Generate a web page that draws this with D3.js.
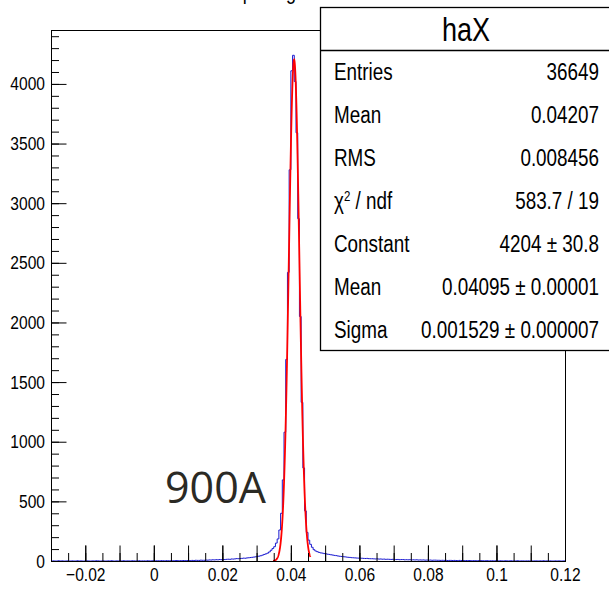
<!DOCTYPE html>
<html lang="en">
<head>
<meta charset="UTF-8">
<title>haX</title>
<script src="https://cdn.jsdelivr.net/npm/d3@7"></script>
<style>
    body { margin: 0; background: #fff; }
    svg { display: block; }
</style>
</head>
<body>
<script>
    // histogram haX : 300 bins, -0.03 .. 0.12
    var xMin = -0.03, xMax = 0.12, binWidth = 0.0005;
    var counts = [
        0,1,0,0,2,0,1,0,0,1,0,0,1,0,0,2,0,1,0,0,
        0,1,0,0,1,0,2,1,0,0,1,0,0,1,0,2,0,0,1,0,
        1,0,2,0,1,1,0,2,1,0,1,2,0,1,1,0,2,1,1,2,
        1,2,2,1,3,2,1,3,2,2,3,2,3,4,2,3,3,4,3,4,
        4,3,5,4,6,5,5,7,6,6,8,7,9,8,10,9,11,10,12,11,
        13,12,14,15,14,17,16,18,20,19,21,22,24,23,26,27,29,31,33,35,
        38,41,44,49,55,60,66,76,90,105,120,150,185,260,400,680,1080,1690,2420,3280,
        4110,4240,4020,3590,2870,2050,1330,780,420,240,175,140,115,95,84,78,72,68,66,62,
        60,57,55,52,50,47,45,42,40,38,36,35,33,31,30,28,27,26,25,24,
        24,23,22,21,22,20,19,19,18,17,18,16,17,15,16,14,15,14,13,14,
        13,12,13,11,12,12,10,11,10,11,9,10,9,10,8,9,8,9,7,8,
        7,8,6,7,7,6,6,5,6,5,6,4,5,5,4,5,4,3,5,4,
        4,3,4,3,4,2,3,3,2,3,2,3,2,2,3,1,2,2,1,2,
        2,1,2,1,1,2,1,1,2,0,1,1,2,0,1,1,0,1,1,0,
        1,0,1,1,0,1,0,2,0,1,0,1,0,0,1,0,1,0,0,1
    ];

    // gaus fit: constant, mean, sigma
    var fitParams = [4204, 0.04095, 0.001529];
    var fitRange = [0.0348, 0.0457];

    var xTickValues = [-0.02, 0, 0.02, 0.04, 0.06, 0.08, 0.1, 0.12];
    var xTickLabels = ["\u22120.02", "0", "0.02", "0.04", "0.06", "0.08", "0.1", "0.12"];
    var yTickValues = [0, 500, 1000, 1500, 2000, 2500, 3000, 3500, 4000];

    var statNames = ["Entries", "Mean", "RMS", "\u03c7\u00b2 / ndf", "Constant", "Mean", "Sigma"];
    var statValues = ["36649", "0.04207", "0.008456", "583.7 / 19",
        "4204 \u00b1 30.8", "0.04095 \u00b1 0.00001", "0.001529 \u00b1 0.000007"];

    var w = 609, h = 590;
    var fLeft = 51, fRight = 565, fTop = 30, fBottom = 561;
    var font = "'Liberation Sans', Arial, sans-serif";
    var squeeze = 0.82;   // no narrow font installed, so squeeze by hand

    var x = d3.scaleLinear().domain([xMin, xMax]).range([fLeft, fRight]);
    var y = d3.scaleLinear().domain([0, 4452]).range([fBottom, fTop]);

    var svg = d3.select("body").append("svg")
        .attr("width", w)
        .attr("height", h);

    svg.append("defs").append("clipPath").attr("id", "frame")
        .append("rect")
        .attr("x", fLeft).attr("y", fTop)
        .attr("width", fRight - fLeft).attr("height", fBottom - fTop);

    // histogram as steps
    var pts = [];
    counts.forEach(function (c, i) {
        pts.push([xMin + i * binWidth, c]);
        pts.push([xMin + (i + 1) * binWidth, c]);
    });
    var line = d3.line()
        .x(function (d) { return x(d[0]); })
        .y(function (d) { return y(d[1]); });

    svg.append("path")
        .datum(pts)
        .attr("clip-path", "url(#frame)")
        .attr("d", line)
        .attr("fill", "none")
        .attr("stroke", "#1a1ad0")
        .attr("stroke-width", 1);

    // fit curve
    var fitPts = d3.range(0, 201).map(function (k) {
        var xv = fitRange[0] + (fitRange[1] - fitRange[0]) * k / 200;
        var z = (xv - fitParams[1]) / fitParams[2];
        return [xv, fitParams[0] * Math.exp(-0.5 * z * z)];
    });
    svg.append("path")
        .datum(fitPts)
        .attr("d", line)
        .attr("fill", "none")
        .attr("stroke", "#ff0000")
        .attr("stroke-width", 1.8);

    // axes, ticks pointing inside
    function tickSet(vals, len) {
        return d3.axisBottom(x).tickValues(vals).tickSize(-len).tickFormat("");
    }
    var xFine = d3.range(-6, 25).map(function (k) { return k * 0.005; });
    var xMid = d3.range(-2, 13).map(function (k) { return k * 0.01; });

    var gx = svg.append("g").attr("transform", "translate(0," + fBottom + ")");
    gx.append("g").call(tickSet(xFine, 8));
    gx.append("g").call(tickSet(xMid, 15.5));
    gx.append("g").attr("class", "xlab").call(d3.axisBottom(x)
        .tickValues(xTickValues)
        .tickSize(-15.5)
        .tickPadding(7)
        .tickFormat(function (d, i) { return xTickLabels[i]; }));

    var gy = svg.append("g").attr("transform", "translate(" + fLeft + ",0)");
    gy.append("g").call(d3.axisLeft(y)
        .tickValues(d3.range(0, 45).map(function (k) { return k * 100; }))
        .tickSize(-8).tickFormat(""));
    gy.append("g").attr("class", "ylab").call(d3.axisLeft(y)
        .tickValues(yTickValues)
        .tickSize(-15.5)
        .tickPadding(6)
        .tickFormat(d3.format("d")));

    svg.selectAll(".domain").remove();
    svg.selectAll(".tick line").attr("stroke", "#000").attr("stroke-width", 1);
    svg.selectAll(".tick text")
        .attr("font-family", font)
        .attr("font-size", "19px")
        .attr("fill", "#000");
    svg.selectAll(".xlab .tick text").attr("transform", "scale(" + squeeze + ",1)");
    svg.selectAll(".ylab .tick text")
        .attr("x", -6 / squeeze)
        .attr("transform", "scale(" + squeeze + ",1)");

    svg.append("rect")
        .attr("x", fLeft + 0.5).attr("y", fTop + 0.5)
        .attr("width", fRight - fLeft).attr("height", fBottom - fTop)
        .attr("fill", "none")
        .attr("stroke", "#000")
        .attr("stroke-width", 1);

    function narrowText(g, tx, ty, anchor, size, str) {
        return g.append("text")
            .attr("transform", "translate(" + tx + "," + ty + ") scale(" + squeeze + ",1)")
            .attr("text-anchor", anchor)
            .attr("font-family", font)
            .attr("font-size", size + "px")
            .attr("fill", "#000")
            .text(str);
    }

    // title, mostly off the top edge
    narrowText(svg, 296, -1.5, "end", 22, "haX spacing");

    svg.append("text")
        .attr("x", 165).attr("y", 503)
        .attr("font-family", "'Open Sans', 'Noto Sans', sans-serif")
        .attr("font-size", "43px")
        .attr("fill", "#2b2a24")
        .text("900A");

    // stats box
    var box = svg.append("g");
    box.append("rect")
        .attr("x", 320.5).attr("y", 7.5)
        .attr("width", 300).attr("height", 343)
        .attr("fill", "#fff")
        .attr("stroke", "#000")
        .attr("stroke-width", 1.3);
    box.append("line")
        .attr("x1", 320.5).attr("x2", 620)
        .attr("y1", 50.5).attr("y2", 50.5)
        .attr("stroke", "#000")
        .attr("stroke-width", 1.3);
    narrowText(box, 466, 41, "middle", 33, "haX");

    statNames.forEach(function (d, i) {
        var yy = 50 + 43 * (i + 0.5) + 8;
        if (d.indexOf("\u00b2") >= 0) {
            var t = narrowText(box, 334, yy, "start", 23, "");
            t.append("tspan").text("\u03c7");
            t.append("tspan").attr("font-size", "14px").attr("dy", -8).text("2");
            t.append("tspan").attr("dy", 8).text(" / ndf");
        } else {
            narrowText(box, 334, yy, "start", 23, d);
        }
        narrowText(box, 599, yy, "end", 23, statValues[i]);
    });
</script>
</body>
</html>
